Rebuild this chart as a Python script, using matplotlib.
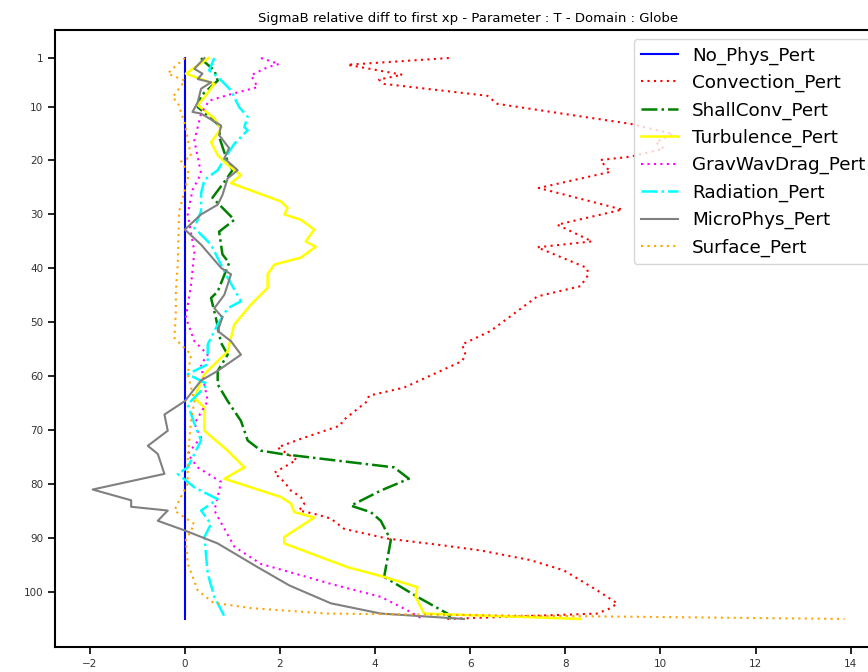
import numpy as np
import matplotlib
matplotlib.use('Agg')
import matplotlib.pyplot as plt

# profils : (niveau, valeur)
lev_nophys = [1, 105]
val_nophys = [0.0, 0.0]

lev_conv = [1, 2.25, 4.1, 5.0, 5.8, 8.0, 9.5, 13.2, 15.1, 16.6, 17.8, 19.3, 19.9, 21.1, 22.1,
            25.1, 29.1, 31.9, 35.0, 36.1, 39.9, 41.1, 43.3, 45.2, 51.6, 54.1, 56.0, 57.2, 62.1,
            63.6, 64.6, 68.3, 69.1, 71.6, 73.2, 75.5, 77.9, 79.7, 81.2, 82.4, 83.7, 84.9, 85.5,
            86.4, 88.3, 90.1, 91.3, 92.3, 94.1, 96.0, 99.7, 102.1, 103.0, 104.0, 105]
val_conv = [5.55, 3.42, 4.57, 4.08, 4.19, 6.36, 6.57, 9.37, 10.27, 9.9, 10.07, 9.37, 8.74, 8.84, 8.95,
            7.44, 9.2, 7.83, 8.56, 7.41, 8.45, 8.49, 8.32, 7.41, 6.43, 5.83, 5.90, 5.83, 4.61,
            3.87, 3.84, 3.31, 3.28, 2.44, 1.95, 2.35, 1.88, 2.10, 2.23, 2.44, 2.51, 2.40, 2.72,
            3.07, 3.35, 4.26, 5.38, 6.22, 7.27, 7.97, 8.67, 9.09, 8.95, 8.67, 5.5]

lev_shall = [1, 1.7, 3.3, 5.2, 8.0, 10.1, 11.9, 13.8, 15.6, 19.3, 21.8, 23.6, 26.9, 31.0, 33.2,
             37.4, 39.0, 44.3, 45.5, 49.1, 53.8, 56.0, 59.0, 61.5, 64.6, 68.3, 71.9, 73.8, 74.4,
             76.9, 79.0, 81.2, 84.0, 85.2, 86.8, 90.4, 97.2, 100.9, 104.0, 105]
val_shall = [0.34, 0.41, 0.62, 0.69, 0.34, 0.27, 0.51, 0.76, 0.72, 0.86, 1.0, 0.86, 0.58, 1.04, 0.72,
             0.79, 0.93, 0.69, 0.55, 0.65, 0.76, 0.90, 0.69, 0.69, 0.90, 1.18, 1.32, 1.60, 2.02,
             4.40, 4.71, 4.12, 3.49, 3.91, 4.12, 4.33, 4.19, 4.89, 5.52, 5.6]

lev_turb = [1, 3.9, 5.8, 8.3, 9.7, 12.2, 14.1, 16.6, 19.0, 20.8, 22.7, 24.2, 27.6, 28.8, 30.0,
            31.0, 32.8, 35.0, 36.0, 38.0, 39.3, 41.1, 43.6, 46.7, 50.4, 53.5, 55.4, 57.8, 59.6,
            64.0, 65.8, 70.1, 73.8, 76.9, 79.0, 82.4, 83.6, 85.2, 86.2, 89.8, 91.0, 95.4, 97.2,
            99.1, 100.9, 104.0, 105]
val_turb = [0.5, 0.02, 0.62, 0.41, 0.27, 0.62, 0.76, 0.55, 0.69, 0.90, 1.18, 0.97, 2.02, 2.16, 2.09,
            2.44, 2.72, 2.54, 2.75, 2.44, 1.88, 1.74, 1.74, 1.39, 1.04, 0.95, 0.90, 0.62, 0.41,
            0.20, 0.41, 0.41, 0.90, 1.25, 0.83, 2.02, 2.23, 2.30, 2.72, 2.09, 2.09, 3.42, 4.19,
            4.89, 4.85, 5.03, 8.32]

lev_grav = [1, 2.1, 2.7, 4.2, 6.4, 7.7, 8.9, 11.3, 16.3, 22.4, 25.5, 30.0, 36.9, 43.0, 49.1,
            53.5, 56.0, 57.8, 61.5, 64.6, 68.8, 71.3, 74.4, 76.9, 79.6, 82.4, 84.9, 91.6, 94.8,
            96.9, 98.5, 100.9, 103.4, 105]
val_grav = [1.60, 1.98, 1.74, 1.39, 1.53, 0.97, 0.51, 0.34, 0.20, 0.34, 0.16, 0.06, 0.20, 0.13, 0.02,
            0.20, 0.48, 0.34, 0.41, 0.48, 0.20, 0.34, 0.06, 0.27, 0.76, 0.69, 0.62, 1.04, 1.60,
            2.44, 3.07, 4.12, 4.68, 5.0]

lev_rad = [1, 3.3, 4.5, 7.0, 10.1, 11.9, 13.8, 14.4, 16.9, 19.3, 21.8, 23.6, 26.1, 29.4,
           32.5, 35.6, 41.1, 46.1, 47.4, 50.4, 54.1, 57.8, 59.6, 61.5, 65.2, 68.8, 71.9, 76.9,
           78.1, 80.6, 82.8, 84.9, 87.4, 89.8, 96.6, 100.9, 105]
val_rad = [0.62, 0.51, 0.69, 0.97, 1.14, 1.32, 1.25, 1.32, 1.04, 0.86, 0.69, 0.41, 0.34, 0.34,
           0.20, 0.55, 0.86, 1.18, 0.90, 0.69, 0.48, 0.48, 0.06, 0.48, 0.06, 0.20, 0.34, 0.06,
           -0.15, 0.20, 0.69, 0.34, 0.55, 0.41, 0.48, 0.62, 0.86]

lev_micro = [1, 3.0, 3.9, 4.9, 5.5, 6.7, 9.2, 11.0, 11.3, 13.5, 15.3, 17.7, 19.6, 21.8, 23.3,
             26.4, 28.2, 30.0, 32.8, 35.6, 39.9, 41.1, 44.9, 47.4, 49.1, 51.6, 53.5, 56.0, 59.0,
             60.8, 64.6, 67.1, 70.1, 72.9, 74.4, 78.1, 81.0, 83.0, 84.2, 84.9, 86.8, 88.6, 91.0,
             95.4, 98.8, 102.1, 104.0, 105]
val_micro = [0.41, 0.20, 0.37, 0.27, 0.55, 0.34, 0.27, 0.16, 0.34, 0.76, 0.72, 0.93, 0.83, 1.11, 0.90,
             0.79, 0.69, 0.34, 0.0, 0.34, 0.76, 0.97, 0.83, 0.62, 0.79, 0.69, 0.97, 1.18, 0.69,
             0.34, 0.0, -0.43, -0.36, -0.78, -0.57, -0.43, -1.94, -1.13, -1.13, -0.36, -0.57, 0.0, 0.69,
             1.53, 2.2, 3.07, 4.12, 5.87]

lev_surf = [1, 3.0, 3.9, 5.2, 8.3, 9.2, 13.2, 19.3, 20.2, 22.4, 29.4, 39.3, 44.3, 47.9, 52.9,
            56.0, 59.6, 64.6, 68.3, 75.0, 79.9, 83.0, 84.9, 87.4, 90.4, 94.7, 99.7, 102.0, 103.0,
            104.0, 105]
val_surf = [0.0, -0.26, -0.36, 0.0, -0.26, -0.15, 0.0, 0.13, -0.08, 0.09, -0.12, -0.15, -0.19, -0.19, -0.22,
            0.13, 0.06, 0.20, 0.13, 0.06, 0.06, -0.12, -0.22, 0.20, 0.02, 0.06, 0.27, 0.6, 1.4,
            3.0, 13.87]

yticks_vals = [1, 10, 20, 30, 40, 50, 60, 70, 80, 90, 100]

dots = (0, (1, 2.1))

fig = plt.figure(figsize=(8.68, 6.72), dpi=100)
ax = fig.add_axes([0.0634, 0.0372, 0.9528, 0.9182])

ax.plot(val_nophys, lev_nophys, color='blue', ls='-', lw=1.5, label='No_Phys_Pert')
ax.plot(val_conv, lev_conv, color='red', ls=dots, lw=1.5, label='Convection_Pert')
ax.plot(val_shall, lev_shall, color='green', ls='-.', lw=1.8, label='ShallConv_Pert')
ax.plot(val_turb, lev_turb, color='yellow', ls='-', lw=1.8, label='Turbulence_Pert')
ax.plot(val_grav, lev_grav, color='magenta', ls=dots, lw=1.5, label='GravWavDrag_Pert')
ax.plot(val_rad, lev_rad, color='cyan', ls='-.', lw=1.8, label='Radiation_Pert')
ax.plot(val_micro, lev_micro, color='gray', ls='-', lw=1.5, label='MicroPhys_Pert')
ax.plot(val_surf, lev_surf, color='orange', ls=dots, lw=1.5, label='Surface_Pert')

ax.invert_yaxis()
ax.set_yticks(yticks_vals)
ax.tick_params(labelsize=7.5, labelcolor='#333333', width=1.2, length=5)
for s in ax.spines.values():
    s.set_linewidth(1.5)

ax.set_title('SigmaB relative diff to first xp - Parameter : T - Domain : Globe', fontsize=9.5)
ax.legend(loc='upper right', fontsize=13.2, labelspacing=0.5)

plt.savefig('out.png', dpi=100)
